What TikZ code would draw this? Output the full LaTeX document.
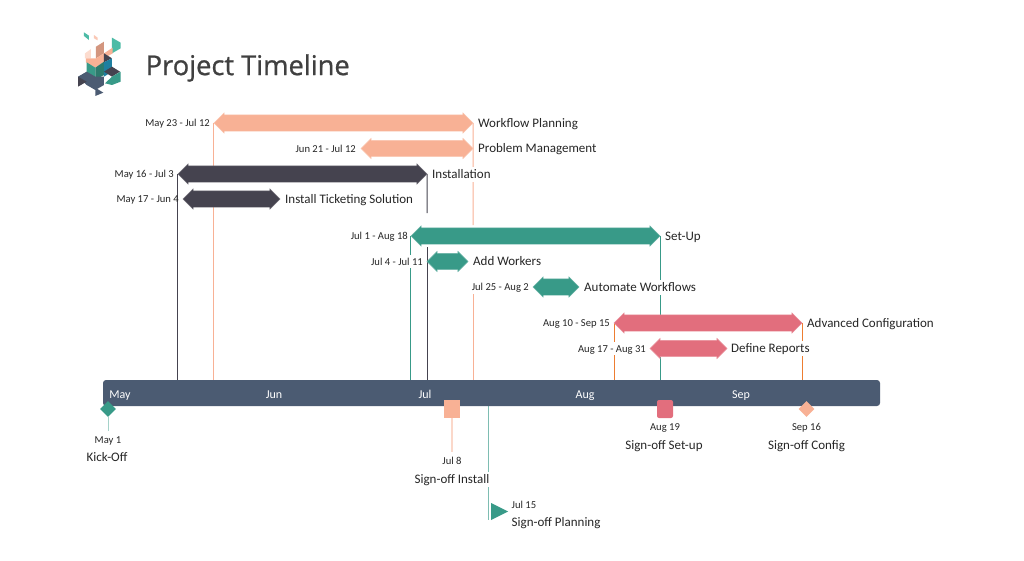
\documentclass[tikz,border=0pt]{standalone}
\usepackage{fontspec}
\setmainfont{Carlito}
\newfontfamily\titlefont[FakeBold=0.8]{Open Sans}
\usetikzlibrary{shapes.arrows,shapes.geometric,backgrounds}
\definecolor{peach}{HTML}{F8B195}
\definecolor{slate}{HTML}{45434F}
\definecolor{teal}{HTML}{389A88}
\definecolor{rose}{HTML}{E26E7D}
\definecolor{axisblue}{HTML}{4B5B72}
\definecolor{droporange}{HTML}{ED7D31}
\definecolor{logoteal}{HTML}{4DBBA6}
\definecolor{logoblue}{HTML}{1F7FA0}
\tikzset{
    ganttbar/.style={double arrow, double arrow head extend=2pt, double arrow tip angle=90,
        inner xsep=0pt, inner ysep=8pt, outer sep=0pt, fill=#1, draw=#1!75!white, line width=0.4pt},
    barname/.style={anchor=west, font=\fontsize{13}{15}\selectfont, text=black!85, fill=white, inner sep=1pt, text height=10.5pt, text depth=2.5pt},
    bardate/.style={anchor=east, font=\fontsize{10.6}{13}\selectfont, text=black!85, fill=white, inner sep=1pt, text height=9pt, text depth=2pt},
    msname/.style={font=\fontsize{13}{15}\selectfont, text=black!85, fill=white, inner sep=1pt, text height=10.5pt, text depth=2.5pt},
    msdate/.style={font=\fontsize{10.6}{13}\selectfont, text=black!85, inner sep=1pt, text height=9pt, text depth=2pt},
    month/.style={anchor=base, font=\fontsize{12}{14}\selectfont, text=white, inner sep=0pt},
    drop/.style={line width=1pt, #1},
    stem/.style={line width=1pt, #1}
}
\begin{document}
\begin{tikzpicture}[x=1pt, y=-1pt]
    \useasboundingbox (0,0) rectangle (1024,560);

    % Logo
    \begin{scope}[shift={(70,25)}, x=0.3333pt, y=-0.3333pt]
        \fill [logoteal] (42,22) -- (57,32) -- (57,45) -- (42,33) -- cycle;
        \fill [peach!70!white] (72,30) -- (83,38) -- (83,46) -- (72,40) -- cycle;
        \fill [logoteal] (126,38) -- (152,53) -- (152,70) -- (126,85) -- cycle;
        \fill [peach!45!white] (45,85) -- (63,72) -- (63,100) -- (45,100) -- cycle;
        \fill [peach!85!black] (78,65) -- (102,50) -- (102,85) -- (78,100) -- cycle;
        \fill [peach] (48,100) -- (78,100) -- (102,85) -- (128,68) -- (128,85) -- (102,100) -- (102,110) -- (76,128) -- (48,112) -- cycle;
        \fill [teal] (50,112) -- (76,128) -- (76,170) -- (50,150) -- cycle;
        \fill [teal!80!black] (76,128) -- (102,110) -- (102,150) -- (76,165) -- cycle;
        \fill [slate] (102,85) -- (126,100) -- (102,112) -- cycle;
        \fill [logoblue] (102,112) -- (126,100) -- (126,140) -- (102,155) -- cycle;
        \fill [slate] (102,140) -- (126,125) -- (150,140) -- (126,155) -- cycle;
        \fill [teal] (105,175) -- (126,155) -- (152,140) -- (152,170) -- (126,180) -- cycle;
        \fill [axisblue] (24,155) -- (50,140) -- (76,155) -- (102,155) -- (102,180) -- (76,195) -- (50,180) -- cycle;
        \fill [slate] (24,155) -- (50,170) -- (24,185) -- cycle;
        \fill [axisblue] (76,188) -- (100,203) -- (76,213) -- cycle;
    \end{scope}

    \node [anchor=west, inner sep=0pt, text=black!75, font=\titlefont\fontsize{27.3}{32}\selectfont] (title) at (145.5,68) {Project Timeline};

    % Timeline band
    \node [rounded corners=3pt, fill=axisblue, minimum width=777pt, minimum height=26pt, inner sep=0pt, outer sep=0pt] (band) at (491.5,393) {};
    \node [month] (may) at (120,398) {May};
    \node [month] (jun) at (274,398) {Jun};
    \node [month] (jul) at (425,398) {Jul};
    \node [month] (aug) at (585,398) {Aug};
    \node [month] (sep) at (741,398) {Sep};

    % Planning bars
    \node [ganttbar=peach, minimum height=259pt] (wfp) at (343.5,123) {};
    \node [bardate] (wfpdate) at (211,123) {May 23 - Jul 12};
    \node [barname] (wfpname) at (477,123) {Workflow Planning};
    \node [ganttbar=peach, minimum height=112pt] (pbm) at (417,148.5) {};
    \node [bardate] (pbmdate) at (357,148.5) {Jun 21 - Jul 12};
    \node [barname] (pbmname) at (477,148.5) {Problem Management};

    % Installation bars
    \node [ganttbar=slate, minimum height=249pt] (inst) at (302.5,174) {};
    \node [bardate] (instdate) at (175,174) {May 16 - Jul 3};
    \node [barname] (instname) at (431,174) {Installation};
    \node [ganttbar=slate, minimum height=97pt] (tick) at (231.5,199) {};
    \node [bardate, fill=none] (tickdate) at (180,199) {May 17 - Jun 4};
    \node [barname] (tickname) at (284,199) {Install Ticketing Solution};

    % Set-up bars
    \node [ganttbar=teal, minimum height=249pt] (setup) at (535.5,236) {};
    \node [bardate] (setupdate) at (409,236) {Jul 1 - Aug 18};
    \node [barname] (setupname) at (664,236) {Set-Up};
    \node [ganttbar=teal, minimum height=41pt] (work) at (447.5,261.5) {};
    \node [bardate] (workdate) at (424,261.5) {Jul 4 - Jul 11};
    \node [barname] (workname) at (472,261.5) {Add Workers};
    \node [ganttbar=teal, minimum height=46pt] (auto) at (556,287) {};
    \node [bardate] (autodate) at (530,287) {Jul 25 - Aug 2};
    \node [barname] (autoname) at (583,287) {Automate Workflows};

    % Configuration bars
    \node [ganttbar=rose, minimum height=188pt] (conf) at (708,323) {};
    \node [bardate] (confdate) at (611,323) {Aug 10 - Sep 15};
    \node [barname] (confname) at (806,323) {Advanced Configuration};
    \node [ganttbar=rose, minimum height=77pt] (rep) at (688.5,348.5) {};
    \node [bardate] (repdate) at (647,348.5) {Aug 17 - Aug 31};
    \node [barname] (repname) at (730,348.5) {Define Reports};

    % Milestones
    \node [diamond, fill=teal, minimum size=16pt, inner sep=0pt] (kick) at (108,409) {};
    \node [msdate] (kickdate) at (108,440) {May 1};
    \node [msname] (kickname) at (107,457) {Kick-Off};
    \node [fill=peach, minimum width=16pt, minimum height=18pt, inner sep=0pt] (inss) at (452,409) {};
    \node [msdate] (inssdate) at (452,461) {Jul 8};
    \node [msname] (inssname) at (452,479) {Sign-off Install};
    \node [isosceles triangle, isosceles triangle stretches, fill=teal, minimum width=17pt, minimum height=17pt, inner sep=0pt, anchor=lower side] (plan) at (491,511.5) {};
    \node [msdate, anchor=west] (plandate) at (510.5,505) {Jul 15};
    \node [msname, anchor=west] (planname) at (510.5,522) {Sign-off Planning};
    \node [rounded corners=2pt, fill=rose, minimum width=16pt, minimum height=18pt, inner sep=0pt] (sets) at (665,409) {};
    \node [msdate] (setsdate) at (665,427) {Aug 19};
    \node [msname] (setsname) at (664,445) {Sign-off Set-up};
    \node [diamond, fill=peach, minimum size=16pt, inner sep=0pt] (cfgs) at (806.5,409) {};
    \node [msdate] (cfgsdate) at (806.5,427) {Sep 16};
    \node [msname] (cfgsname) at (806.5,445) {Sign-off Config};

    \coordinate (kickend) at (108,431);
    \coordinate (inssend) at (452,452);
    \coordinate (planstart) at (488.5,406);
    \coordinate (planend) at (488.5,520);
    \coordinate (instbreak) at (427,213);
    \coordinate (instresume) at (427,247);
    \coordinate (wfpbreak) at (473,225);
    \coordinate (wfpresume) at (473,293);

    % Drop lines run behind bars and labels
    \begin{scope}[on background layer]
        \draw [drop=peach] (wfp.west) -- (inst.north -| wfp.west);
        \draw [drop=peach] (tick.south -| wfp.west) -- (band.north -| wfp.west);
        \draw [drop=peach] (wfp.east) -- (wfpbreak);
        \draw [drop=peach] (wfpresume) -- (wfpresume |- band.north);
        \draw [drop=slate] (inst.west) -- (inst.west |- band.north);
        \draw [drop=slate] (inst.east) -- (instbreak);
        \draw [drop=slate] (instresume) -- (instresume |- band.north);
        \draw [drop=teal] (setup.west) -- (setup.west |- band.north);
        \draw [drop=teal] (setup.east) -- (conf.north -| setup.east);
        \draw [drop=teal] (rep.south -| setup.east) -- (band.north -| setup.east);
        \draw [drop=droporange] (conf.west) -- (conf.west |- band.north);
        \draw [drop=droporange] (conf.east) -- (conf.east |- band.north);
        \draw [stem=teal!45!white] (kick.south) -- (kickend);
        \draw [stem=peach!50!white, line width=1.5pt] (inss.south) -- (inssend);
        \draw [stem=teal!65!white] (planstart) -- (planend);
    \end{scope}
\end{tikzpicture}
\end{document}
